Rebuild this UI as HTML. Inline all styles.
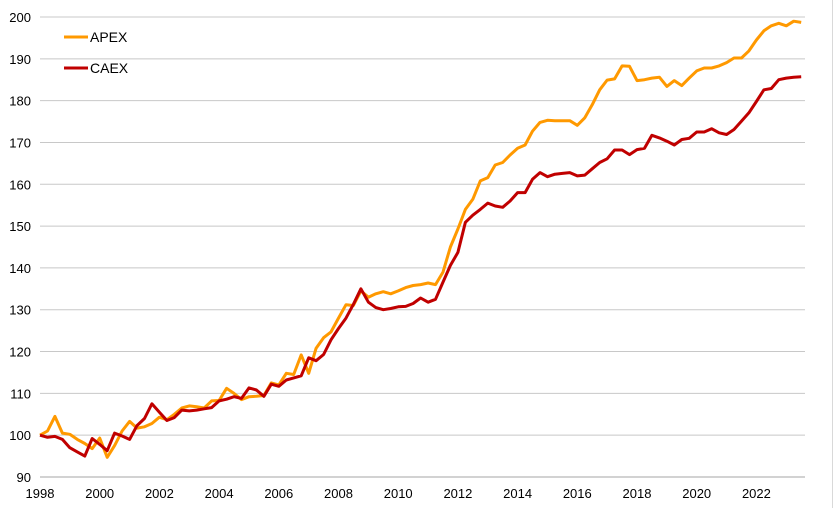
<!DOCTYPE html>
<html><head><meta charset="utf-8"><style>
html,body{margin:0;padding:0;background:#fff;}
svg{display:block;font-family:"Liberation Sans",Arial,sans-serif;}
</style></head><body>
<svg id="chart" width="833" height="508" viewBox="0 0 833 508">
<line x1="832.5" y1="0" x2="832.5" y2="508" stroke="#d9d9d9"/>
<g id="grid"></g>
<g id="yaxis"></g>
<g id="xaxis"></g>
<g id="series"></g>
<g>
<g>
<line x1="64" y1="37" x2="88" y2="37" stroke="#FF9900" stroke-width="3"/>
<text x="90" y="42" font-size="14" fill="#000">APEX</text></g>
<g>
<line x1="64" y1="68" x2="88" y2="68" stroke="#C00000" stroke-width="3"/>
<text x="90" y="73" font-size="14" fill="#000">CAEX</text></g>
</g>
</svg>
<script>
const yTicks=[90,100,110,120,130,140,150,160,170,180,190,200];
const xTickLabels=[1998,2000,2002,2004,2006,2008,2010,2012,2014,2016,2018,2020,2022];
const apex=[100,101,104.5,100.5,100.2,99,98,96.8,99.3,94.7,97.5,101,103.3,101.7,102,102.8,104.3,103.7,105,106.5,107,106.8,106.5,108.2,108.3,111.2,110,108.5,109.2,109.3,109.5,112.5,112,114.8,114.5,119.2,114.8,120.8,123.3,124.7,128,131.2,131,134.5,133,133.8,134.3,133.8,134.5,135.3,135.8,136,136.4,136,139,145,149.3,154,156.4,160.8,161.6,164.6,165.2,167,168.6,169.4,172.7,174.8,175.3,175.2,175.2,175.2,174.1,175.9,179,182.6,184.9,185.2,188.3,188.2,184.8,185,185.4,185.6,183.4,184.8,183.6,185.4,187.1,187.8,187.8,188.3,189.1,190.2,190.2,191.9,194.5,196.7,197.9,198.5,197.9,199,198.7];
const caex=[100,99.5,99.7,99,97,96,95,99.2,97.8,96.3,100.5,99.8,99,102.3,104,107.5,105.5,103.5,104.2,106,105.8,106,106.3,106.6,108.2,108.6,109.2,108.8,111.3,110.8,109.3,112.2,111.7,113.2,113.7,114.2,118.5,117.8,119.3,122.8,125.5,128,131.3,135,131.8,130.5,130,130.3,130.7,130.8,131.5,132.8,131.8,132.5,136.6,140.6,143.7,150.9,152.6,154,155.5,154.8,154.5,156,158,158,161.2,162.8,161.8,162.4,162.6,162.8,162,162.2,163.7,165.2,166.1,168.2,168.2,167.1,168.3,168.6,171.7,171.1,170.3,169.4,170.7,171,172.5,172.5,173.3,172.3,171.9,173.1,175.1,177.1,179.8,182.6,182.9,185,185.4,185.6,185.7];
const NS="http://www.w3.org/2000/svg";
const x0=40,x1=805,yearW=29.85,startYear=1998;
function xQ(i){return x0+i*yearW/4;}
function xYear(y){return x0+(y-startYear)*yearW;}
function yV(v){return 477-(v-90)*(477-17)/110;}
const grid=document.getElementById('grid'),ya=document.getElementById('yaxis'),xa=document.getElementById('xaxis'),ser=document.getElementById('series');
yTicks.forEach(t=>{
 const l=document.createElementNS(NS,'line');
 l.setAttribute('x1',x0);l.setAttribute('x2',x1);l.setAttribute('y1',yV(t));l.setAttribute('y2',yV(t));
 l.setAttribute('stroke',t===90?'#a6a6a6':'#c8c8c8');l.setAttribute('stroke-width','1');
 
 
 grid.appendChild(l);
 const tx=document.createElementNS(NS,'text');
 tx.setAttribute('x',31);tx.setAttribute('y',yV(t)+5);tx.setAttribute('text-anchor','end');tx.setAttribute('font-size','13');
 tx.textContent=t;
 
 
 ya.appendChild(tx);
});
xTickLabels.forEach(y=>{
 const tx=document.createElementNS(NS,'text');
 tx.setAttribute('x',xYear(y));tx.setAttribute('y',498);tx.setAttribute('text-anchor','middle');tx.setAttribute('font-size','13');
 tx.textContent=y;
 
 
 xa.appendChild(tx);
});
function draw(arr,color,name){
 const p=document.createElementNS(NS,'polyline');
 p.setAttribute('points',arr.map((v,i)=>xQ(i).toFixed(1)+','+yV(v).toFixed(1)).join(' '));
 p.setAttribute('fill','none');p.setAttribute('stroke',color);p.setAttribute('stroke-width','3');p.setAttribute('stroke-linejoin','round');
 
 
 ser.appendChild(p);
}
draw(apex,'#FF9900','apex-line');
draw(caex,'#C00000','caex-line');
</script>
</body></html>
